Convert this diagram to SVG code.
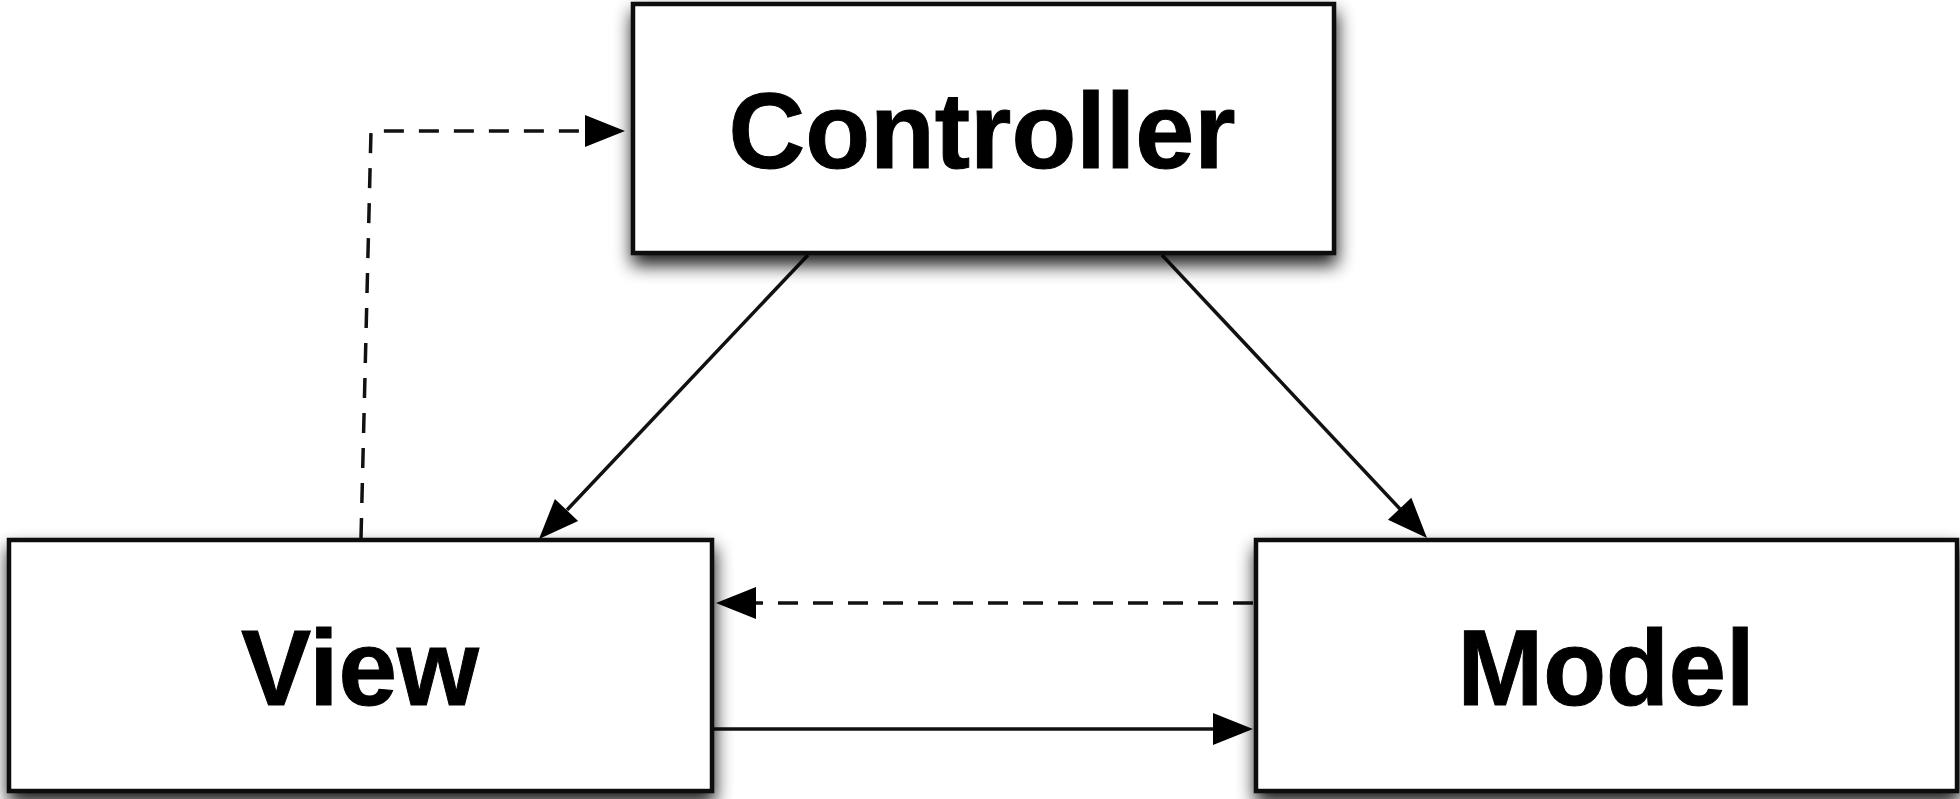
<svg xmlns="http://www.w3.org/2000/svg" width="1960" height="799" viewBox="0 0 1960 799">
  <style>
    .box { fill: #ffffff; stroke: #111111; stroke-width: 4.5; }
    .label { font-family: "Liberation Sans", Arial, Helvetica, sans-serif; font-weight: bold; font-size: 108px; fill: #000000; stroke: #000000; stroke-width: 1; text-anchor: middle; }
    .edge { fill: none; stroke: #111111; stroke-width: 3.5; }
    .dashed { stroke-dasharray: 20 15; }
    .head { fill: #000000; }
  </style>
  <defs>
    <filter id="shadow" x="-15%" y="-25%" width="130%" height="170%">
      <feGaussianBlur in="SourceAlpha" stdDeviation="9"/>
      <feOffset dx="1" dy="10" result="blur"/>
      <feComponentTransfer>
        <feFuncA type="linear" slope="0.9"/>
      </feComponentTransfer>
      <feMerge>
        <feMergeNode/>
        <feMergeNode in="SourceGraphic"/>
      </feMerge>
    </filter>
    <!-- arrowhead pointing along +x, tip at origin -->
    <polygon id="arrowhead" class="head" points="0,0 -40,-16 -40,16"/>
  </defs>

  <rect width="1960" height="799" fill="#ffffff"/>

  <g id="connectors">
    <!-- View to Controller (dashed, elbow) -->
    <path class="edge dashed" d="M361,538 L371,131 L588,131"/>
    <use href="#arrowhead" transform="translate(625,131)"/>
    <!-- Controller to View -->
    <path class="edge" d="M808,255 L567,510"/>
    <use href="#arrowhead" transform="translate(539,539) rotate(133.45)"/>
    <!-- Controller to Model -->
    <path class="edge" d="M1162,255 L1400,509"/>
    <use href="#arrowhead" transform="translate(1427,538) rotate(46.88)"/>
    <!-- Model to View (dashed) -->
    <path class="edge dashed" d="M1253,603 L754,603"/>
    <use href="#arrowhead" transform="translate(716,603) rotate(180)"/>
    <!-- View to Model -->
    <path class="edge" d="M714,729 L1215,729"/>
    <use href="#arrowhead" transform="translate(1253,729)"/>
  </g>

  <g id="controller">
    <rect class="box" x="633" y="4" width="701" height="249" filter="url(#shadow)"/>
    <text class="label" x="982" y="168" textLength="507" lengthAdjust="spacingAndGlyphs">Controller</text>
  </g>

  <g id="view">
    <rect class="box" x="9" y="540" width="703" height="251" filter="url(#shadow)"/>
    <text class="label" x="360" y="705" textLength="238" lengthAdjust="spacingAndGlyphs">View</text>
  </g>

  <g id="model">
    <rect class="box" x="1256" y="540" width="701" height="251" filter="url(#shadow)"/>
    <text class="label" x="1606" y="705" textLength="297" lengthAdjust="spacingAndGlyphs">Model</text>
  </g>
</svg>
